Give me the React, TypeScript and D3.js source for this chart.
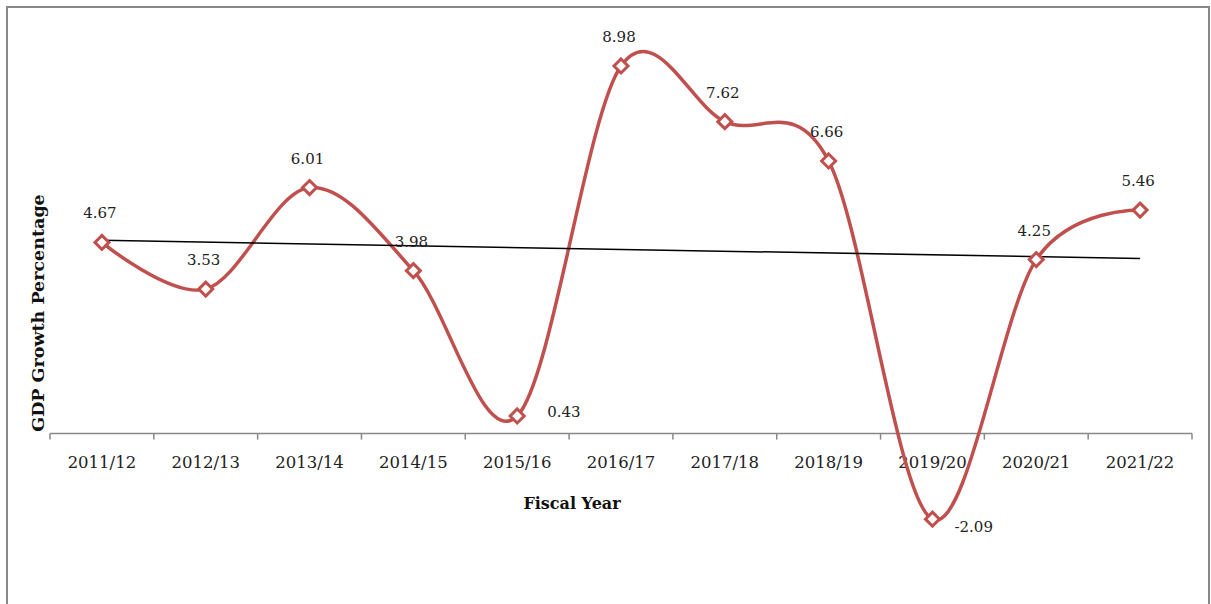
import React from "react";
import * as d3 from "d3";

const categories = ["2011/12","2012/13","2013/14","2014/15","2015/16","2016/17","2017/18","2018/19","2019/20","2020/21","2021/22"];
const gdpGrowth = [4.67, 3.53, 6.01, 3.98, 0.43, 8.98, 7.62, 6.66, -2.09, 4.25, 5.46];
const labelSide = ["top","top","top","top","right","top","top","top","rightBelow","top","top"];

const W = 1211, H = 604;
const RED = "#C0504D";
const FONT = "'DejaVu Serif', serif";

export default function App() {
  const x = d3.scaleBand<string>().domain(categories).range([50, 1192]).padding(0);
  const y = d3.scaleLinear().domain([0, 10]).range([433.6, 24.2]);
  const cx = (c: string) => (x(c) as number) + x.bandwidth() / 2;

  const pts: [number, number][] = categories.map((c, i) => [cx(c), y(gdpGrowth[i])]);
  const line = d3.line().curve(d3.curveCardinal.tension(0));

  // linear trendline (least squares on index)
  const n = gdpGrowth.length;
  const mx = (n - 1) / 2;
  const my = d3.mean(gdpGrowth) as number;
  let num = 0, den = 0;
  gdpGrowth.forEach((v, i) => { num += (i - mx) * (v - my); den += (i - mx) * (i - mx); });
  const slope = num / den;
  const t0 = my - slope * mx;
  const t1 = my + slope * (n - 1 - mx);

  const axisY = y(0);
  const boundaries = d3.range(categories.length + 1).map(i => 50 + i * x.bandwidth());

  return (
    <svg width={W} height={H} style={{ position: "absolute", left: 0, top: 0, background: "#fff" }}>
      <rect x={7} y={7} width={1202} height={610} fill="#fff" stroke="#888" strokeWidth={2} />
      {/* x axis */}
      <line x1={50} x2={1192} y1={axisY} y2={axisY} stroke="#888" strokeWidth={1.5} />
      {boundaries.map((b, i) => (
        <line key={i} x1={b} x2={b} y1={axisY} y2={axisY + 6} stroke="#888" strokeWidth={1.5} />
      ))}
      {categories.map(c => (
        <text key={c} x={cx(c)} y={468} textAnchor="middle" fontFamily={FONT} fontSize={16.5} fill="#222">{c}</text>
      ))}
      <text x={572} y={509} textAnchor="middle" fontFamily={FONT} fontSize={16} fontWeight="bold" fill="#111">Fiscal Year</text>
      <text transform={`translate(44,313) rotate(-90)`} textAnchor="middle" fontFamily={FONT} fontSize={17.5} fontWeight="bold" fill="#111">GDP Growth Percentage</text>

      {/* data line */}
      <path d={line(pts) as string} fill="none" stroke={RED} strokeWidth={3.5} />
      {/* trendline */}
      <line x1={cx(categories[0])} x2={cx(categories[n - 1])} y1={y(t0)} y2={y(t1)} stroke="#000" strokeWidth={1.5} />
      {/* markers */}
      {pts.map(([px, py], i) => (
        <path key={i} d={`M${px},${py - 7}L${px + 7},${py}L${px},${py + 7}L${px - 7},${py}Z`} fill="#fff" stroke={RED} strokeWidth={3} />
      ))}
      {/* labels */}
      {pts.map(([px, py], i) => {
        const side = labelSide[i];
        const txt = gdpGrowth[i].toFixed(2);
        if (side === "top") {
          return <text key={i} x={px - 2} y={py - 24} textAnchor="middle" fontFamily={FONT} fontSize={15} fill="#222">{txt}</text>;
        }
        const dx = side === "right" ? 30 : 22;
        const dy = side === "right" ? 1 : 13;
        return <text key={i} x={px + dx} y={py + dy} textAnchor="start" fontFamily={FONT} fontSize={15} fill="#222">{txt}</text>;
      })}
    </svg>
  );
}
